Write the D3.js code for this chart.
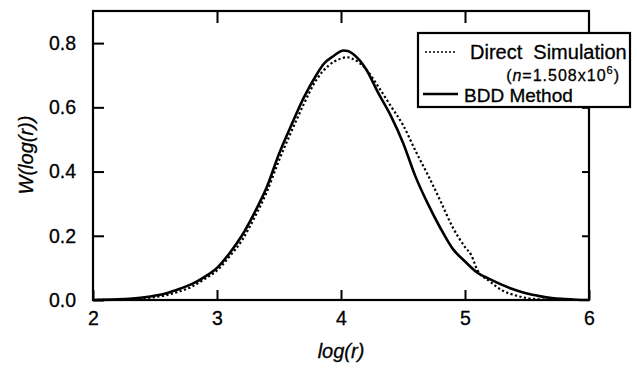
<!DOCTYPE html>
<html><head><meta charset="utf-8">
<script src="https://cdn.jsdelivr.net/npm/d3@7"></script>
<style>
html,body{margin:0;padding:0;background:#fff;}
svg{display:block;font-family:"Liberation Sans",Arial,Helvetica,sans-serif;}
svg text{stroke:#000;stroke-width:0.3px;fill:#000;}
</style></head>
<body><svg id="c" width="637" height="372"></svg>
<script>
// ---- data ----
const xTicks = [2, 3, 4, 5, 6];
const yTicks = [0.0, 0.2, 0.4, 0.6, 0.8];
const bddX = [2.0,2.2,2.4,2.6,2.7,2.8,2.9,3.0,3.1,3.2,3.3,3.4,3.5,3.6,3.7,3.8,3.86,3.94,4.02,4.06,4.1,4.2,4.3,4.4,4.5,4.6,4.7,4.8,4.9,5.0,5.1,5.2,5.3,5.4,5.5,5.6,5.7,5.8,5.9,6.0];
const bddY = [0.0,0.002,0.008,0.022,0.035,0.05,0.072,0.10,0.145,0.20,0.27,0.35,0.455,0.545,0.63,0.70,0.735,0.76,0.777,0.775,0.765,0.72,0.645,0.575,0.49,0.385,0.30,0.225,0.16,0.12,0.085,0.065,0.047,0.032,0.02,0.012,0.006,0.003,0.001,0.0];
const simX = [2.0,2.2,2.4,2.6,2.7,2.8,2.9,3.0,3.1,3.2,3.3,3.4,3.5,3.6,3.7,3.8,3.9,4.0,4.05,4.1,4.2,4.3,4.4,4.5,4.6,4.7,4.8,4.9,5.0,5.05,5.1,5.2,5.3,5.4,5.5,5.6,5.7,5.8];
const simY = [0.0,0.001,0.005,0.016,0.027,0.042,0.065,0.092,0.135,0.185,0.255,0.335,0.435,0.525,0.61,0.685,0.73,0.752,0.756,0.75,0.72,0.665,0.605,0.545,0.465,0.39,0.31,0.227,0.165,0.14,0.093,0.058,0.03,0.015,0.006,0.002,0.0,0.0];
const legendLabels = ["Direct  Simulation", "BDD Method"];

// ---- layout ----
const L = 93, R = 589, T = 11, B = 300;
const svg = d3.select("#c");
const x = d3.scaleLinear().domain([2, 6]).range([L, R]);
const y = d3.scaleLinear().domain([0, 0.9]).range([B, T]);

const fs = "19.5px";
const gB = svg.append("g").attr("transform", `translate(0,${B})`)
  .call(d3.axisBottom(x).tickValues(xTicks).tickFormat(d3.format("d")).tickSizeInner(-10).tickSizeOuter(0).tickPadding(18));
const gL = svg.append("g").attr("transform", `translate(${L},0)`)
  .call(d3.axisLeft(y).tickValues(yTicks).tickFormat(d3.format(".1f")).tickSizeInner(-11).tickSizeOuter(0).tickPadding(17));
const gT = svg.append("g").attr("transform", `translate(0,${T})`)
  .call(d3.axisTop(x).tickValues([3,4,5]).tickFormat("").tickSizeInner(-12).tickSizeOuter(0));
const gR = svg.append("g").attr("transform", `translate(${R},0)`)
  .call(d3.axisRight(y).tickValues([0.2,0.4,0.6,0.8]).tickFormat("").tickSizeInner(-7).tickSizeOuter(0));
[gB,gL,gT,gR].forEach(g=>{
  g.select(".domain").remove();
  g.selectAll(".tick line").attr("stroke","#000").attr("stroke-width",2);
  g.selectAll("text").attr("fill","#000").style("font-size",fs).style("font-family","'Liberation Sans',Arial,sans-serif");
});
gB.selectAll("text").attr("dy","0.35em");
svg.append("rect").attr("x",L).attr("y",T).attr("width",R-L).attr("height",B-T)
  .attr("fill","none").attr("stroke","#000").attr("stroke-width",2.2);

// curves
const line = d3.line().x(d=>x(d[0])).y(d=>y(d[1])).curve(d3.curveMonotoneX);
svg.append("path").datum(simX.map((v,i)=>[v,simY[i]]))
  .attr("d",line).attr("fill","none").attr("stroke","#000").attr("stroke-width",2.2).attr("stroke-dasharray","2.2,2.4");
svg.append("path").datum(bddX.map((v,i)=>[v,bddY[i]]))
  .attr("d",line).attr("fill","none").attr("stroke","#000").attr("stroke-width",2.6).attr("stroke-linejoin","round");

// axis titles
svg.append("text").attr("x",(L+R)/2).attr("y",358).attr("text-anchor","middle")
  .style("font-size","20px").style("font-style","italic").text("log(r)");
svg.append("text").attr("transform","translate(33,155) rotate(-90)").attr("text-anchor","middle")
  .style("font-size","20px").style("font-style","italic").text("W(log(r))");

// legend
const lg = svg.append("g");
lg.append("rect").attr("x",418).attr("y",33).attr("width",212).attr("height",74)
  .attr("fill","#fff").attr("stroke","#000").attr("stroke-width",2.2);
lg.append("line").attr("x1",425).attr("x2",457).attr("y1",52).attr("y2",52)
  .attr("stroke","#000").attr("stroke-width",1.6).attr("stroke-dasharray","2,2");
lg.append("text").attr("x",470).attr("y",59).style("font-size","20px").attr("xml:space","preserve").text(legendLabels[0]);
const t2 = lg.append("text").attr("x",620).attr("y",80.5).attr("text-anchor","end").style("font-size","16px").style("letter-spacing","1px");
t2.append("tspan").text("(");
t2.append("tspan").style("font-style","italic").text("n");
t2.append("tspan").text("=1.508x10");
t2.append("tspan").attr("dy","-6.5").style("font-size","11px").text("6");
t2.append("tspan").attr("dy","6.5").text(")");
lg.append("line").attr("x1",423).attr("x2",458).attr("y1",94).attr("y2",94)
  .attr("stroke","#000").attr("stroke-width",2.4);
lg.append("text").attr("x",464).attr("y",102).style("font-size","19px").text(legendLabels[1]);
</script></body></html>
